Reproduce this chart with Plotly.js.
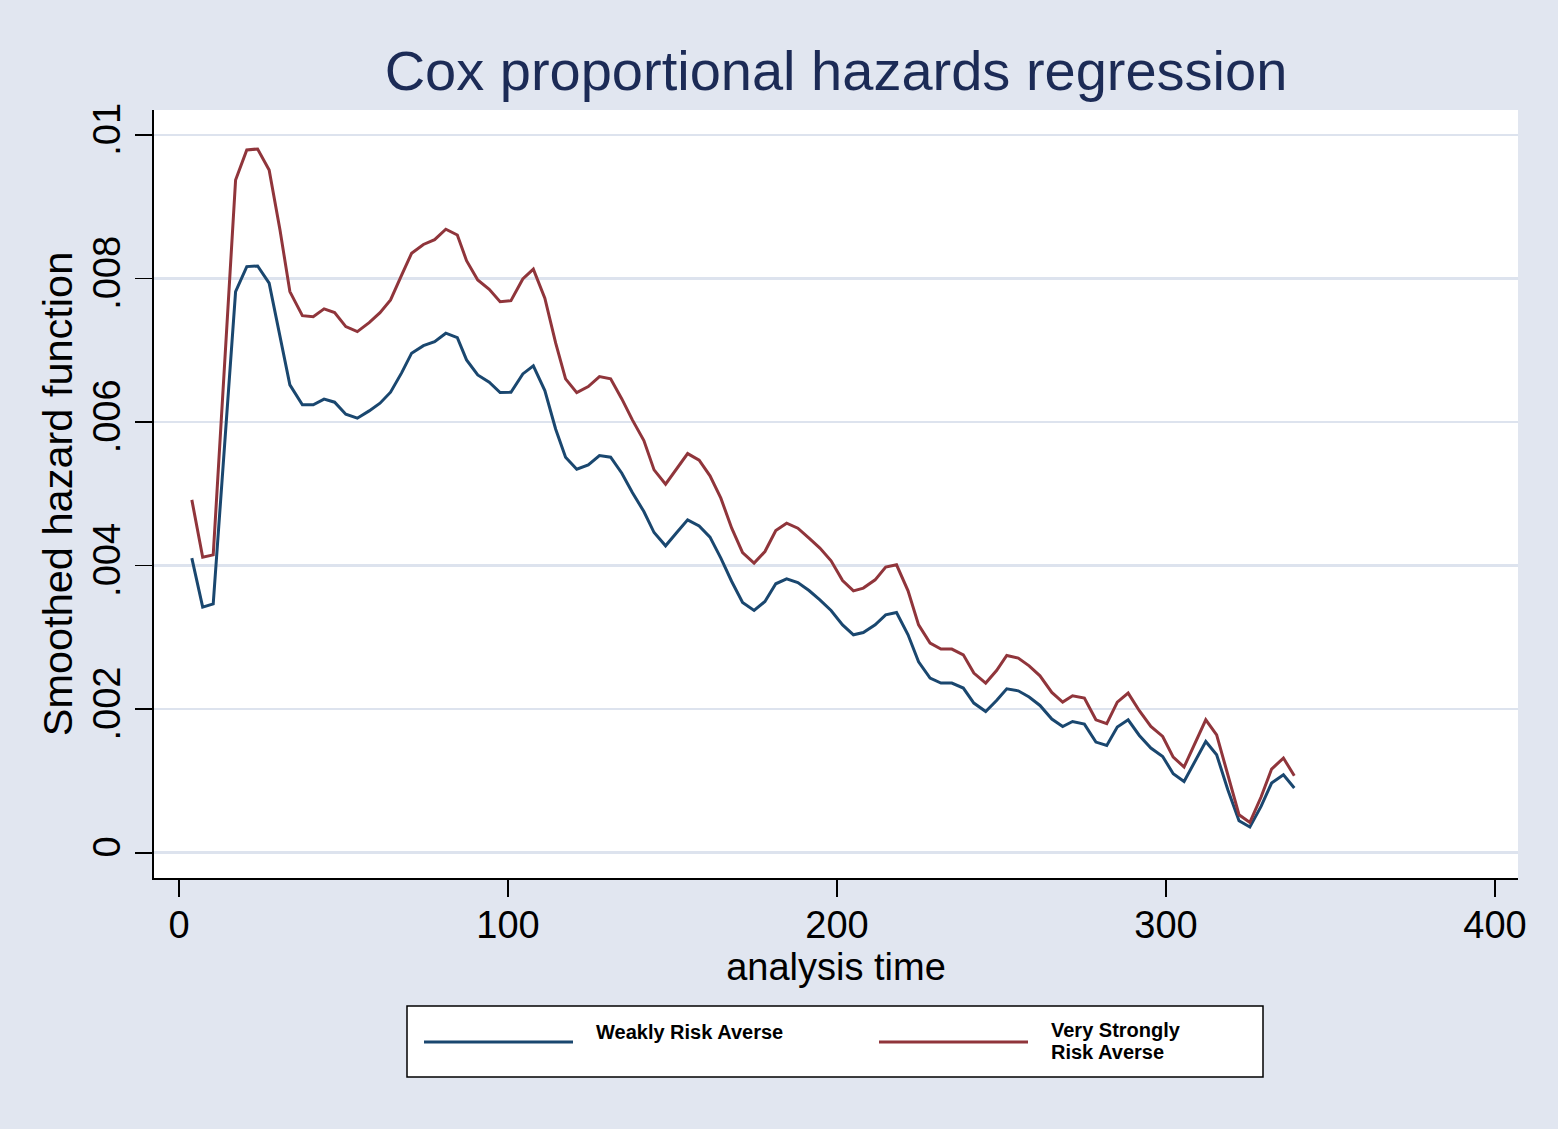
<!DOCTYPE html>
<html>
<head>
<meta charset="utf-8">
<script src="https://cdn.plot.ly/plotly-3.0.1.min.js"></script>
<style>
  html, body { margin: 0; padding: 0; background: #E1E6F0; }
  #chart { width: 1558px; height: 1129px; }
</style>
</head>
<body>
<div id="chart"></div>
<script>
// ---- Data ----
const analysisTime = [3.9, 7.2, 10.4, 17.2, 20.6, 23.9, 27.4, 30.7, 33.7, 37.5, 40.8, 44.1, 47.3, 50.7, 54.2, 57.8, 61.1, 64.3, 67.7, 70.7,
  74.3, 77.7, 81.1, 84.6, 87.4, 90.8, 94.3, 97.6, 100.9, 104.5, 107.7, 111.2, 114.5, 117.5, 120.9, 124.4, 127.8, 131.2, 134.6, 137.8,
  141.3, 144.4, 147.9, 151.3, 154.6, 158.1, 161.4, 164.7, 168.0, 171.3, 174.8, 178.1, 181.4, 184.7, 188.1, 191.5, 194.8, 198.2, 201.7, 205.0,
  208.0, 211.6, 214.8, 218.1, 221.6, 224.8, 228.3, 231.6, 234.9, 238.4, 241.6, 245.2, 248.5, 251.6, 255.1, 258.4, 261.7, 265.3, 268.6, 271.6,
  275.2, 278.7, 282.0, 285.2, 288.5, 291.9, 295.4, 299.0, 302.2, 305.5, 308.8, 312.1, 315.4, 318.8, 322.2, 325.5, 328.9, 332.1, 335.7, 339.0];

const weaklyRiskAverse = [.004104, .003422, .003468, .007818, .008166, .008175, .007935, .007191, .006518, .006240, .006240, .006319, .006277, .006110, .006054, .006156, .006263, .006416, .006689, .006960,
  .007064, .007121, .007238, .007177, .006866, .006657, .006556, .006411, .006416, .006671, .006783, .006439, .005901, .005511, .005344, .005404, .005533, .005511, .005288, .005018,
  .004754, .004461, .004276, .004461, .004638, .004554, .004397, .004104, .003779, .003486, .003375, .003500, .003747, .003816, .003765, .003653, .003524, .003375, .003175, .003036,
  .003068, .003175, .003315, .003347, .003036, .002660, .002433, .002364, .002364, .002294, .002085, .001968, .002121, .002284, .002256, .002169, .002052, .001862, .001759, .001829,
  .001792, .001542, .001494, .001751, .001852, .001634, .001458, .001341, .001100, .000993, .001272, .001550, .001365, .000877, .000446, .000358, .000645, .000971, .001086, .000901];

const veryStronglyRiskAverse = [.004916, .004118, .004150, .009373, .009791, .009805, .009513, .008677, .007818, .007483, .007469, .007577, .007525, .007330, .007260, .007386, .007525, .007702, .008050, .008352,
  .008475, .008542, .008687, .008607, .008249, .007981, .007851, .007678, .007692, .007994, .008130, .007726, .007099, .006602, .006411, .006494, .006634, .006602, .006323, .006031,
  .005742, .005334, .005135, .005344, .005561, .005469, .005251, .004940, .004522, .004182, .004035, .004196, .004489, .004592, .004522, .004383, .004244, .004067, .003792, .003649,
  .003687, .003802, .003979, .004011, .003649, .003175, .002921, .002837, .002837, .002758, .002503, .002364, .002539, .002748, .002712, .002604, .002465, .002233, .002099, .002187,
  .002155, .001852, .001797, .002099, .002224, .001978, .001759, .001620, .001333, .001194, .001528, .001852, .001643, .001086, .000529, .000422, .000776, .001166, .001319, .001072];

const xTickVals = [0, 100, 200, 300, 400];
const yTickVals = [0, .002, .004, .006, .008, .01];
const yTickText = ["0", ".002", ".004", ".006", ".008", ".01"];

const seriesNames = ["Weakly Risk Averse", "Very Strongly Risk Averse"];
const chartTitle = "Cox proportional hazards regression";
const xTitle = "analysis time";
const yTitle = "Smoothed hazard function";

// ---- Styling ----
const FONT = "Liberation Sans, Arial, Helvetica, sans-serif";
const BG = "#E1E6F0";
const BLUE = "#1A476F";
const RED = "#90353B";

const W = 1558, H = 1129;
const M = { l: 154, r: 40, t: 110, b: 251 };
const plotW = W - M.l - M.r, plotH = H - M.t - M.b;
const px2x = (px) => (px - M.l) / plotW;
const px2y = (py) => (H - M.b - py) / plotH;

const traces = [
  { x: analysisTime, y: weaklyRiskAverse, type: "scatter", mode: "lines", name: seriesNames[0],
    line: { color: BLUE, width: 3 }, showlegend: false },
  { x: analysisTime, y: veryStronglyRiskAverse, type: "scatter", mode: "lines", name: seriesNames[1],
    line: { color: RED, width: 3 }, showlegend: false }
];

const legendShapes = [
  { type: "rect", xref: "paper", yref: "paper", x0: px2x(407), x1: px2x(1263), y0: px2y(1077), y1: px2y(1006),
    line: { color: "#000000", width: 1.5 }, fillcolor: "#FFFFFF", layer: "above" },
  { type: "line", xref: "paper", yref: "paper", x0: px2x(424), x1: px2x(573), y0: px2y(1042), y1: px2y(1042),
    line: { color: BLUE, width: 3 } },
  { type: "line", xref: "paper", yref: "paper", x0: px2x(879), x1: px2x(1028), y0: px2y(1042), y1: px2y(1042),
    line: { color: RED, width: 3 } }
];

const legendFont = { family: FONT, size: 20, color: "#000000", weight: "bold" };
const legendAnnotations = [
  { text: seriesNames[0], xref: "paper", yref: "paper", x: px2x(594), y: px2y(1032),
    xanchor: "left", yanchor: "middle", showarrow: false, font: legendFont },
  { text: "Very Strongly", xref: "paper", yref: "paper", x: px2x(1049), y: px2y(1030),
    xanchor: "left", yanchor: "middle", showarrow: false, font: legendFont },
  { text: "Risk Averse", xref: "paper", yref: "paper", x: px2x(1049), y: px2y(1052),
    xanchor: "left", yanchor: "middle", showarrow: false, font: legendFont }
];

const layout = {
  width: W, height: H,
  margin: M,
  paper_bgcolor: BG,
  plot_bgcolor: "#FFFFFF",
  showlegend: false,
  title: {
    text: chartTitle,
    font: { family: FONT, size: 56, color: "#1C2B56" },
    xref: "paper", x: 0.5, xanchor: "center",
    yref: "container", y: 1 - 70 / H, yanchor: "middle"
  },
  xaxis: {
    range: [-7.6, 407.0],
    tickvals: xTickVals,
    ticktext: xTickVals.map(String),
    ticks: "outside", ticklen: 17, tickwidth: 1.7, tickcolor: "#000000",
    ticklabelstandoff: -4,
    showline: true, linecolor: "#000000", linewidth: 1.7,
    showgrid: false, zeroline: false,
    tickfont: { family: FONT, size: 38, color: "#000000" },
    title: { text: xTitle, font: { family: FONT, size: 38, color: "#000000" }, standoff: 0 },
    automargin: false
  },
  yaxis: {
    range: [-0.000352, 0.010348],
    tickvals: yTickVals,
    ticktext: yTickText,
    tickangle: -90,
    ticks: "outside", ticklen: 17, tickwidth: 1.7, tickcolor: "#000000",
    showline: true, linecolor: "#000000", linewidth: 1.7,
    showgrid: true, gridcolor: "#DDE3EE", gridwidth: 2.5,
    zeroline: true, zerolinecolor: "#DDE3EE", zerolinewidth: 2.5,
    tickfont: { family: FONT, size: 38, color: "#000000" },
    title: { text: yTitle, font: { family: FONT, size: 41.5, color: "#000000" }, standoff: 0 },
    automargin: false
  },
  shapes: legendShapes,
  annotations: legendAnnotations
};

Plotly.newPlot("chart", traces, layout, { displayModeBar: false, staticPlot: true });
</script>
</body>
</html>
